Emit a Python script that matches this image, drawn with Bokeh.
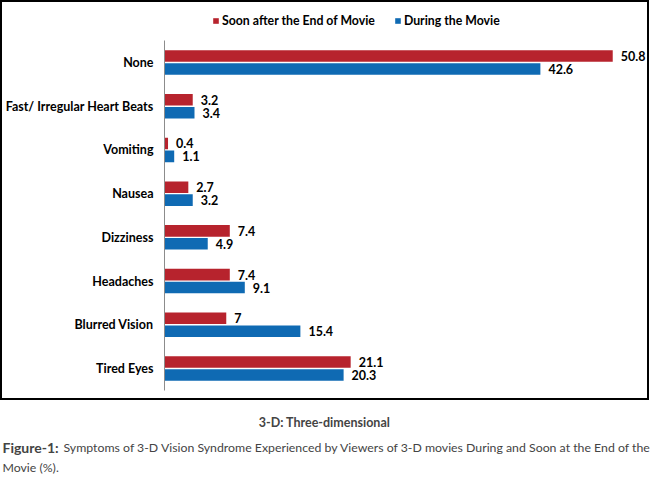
from bokeh.plotting import figure
from bokeh.models import (Range1d, Legend, LegendItem, ColumnDataSource, Label,
                          FixedTicker)
from bokeh.transform import dodge
from bokeh.layouts import column, row
from bokeh.core.properties import value
from bokeh.embed import file_html
from bokeh.resources import INLINE

# ---- data ----
categories = ["None", "Fast/ Irregular Heart Beats", "Vomiting", "Nausea",
              "Dizziness", "Headaches", "Blurred Vision", "Tired Eyes"]
after_movie = [50.8, 3.2, 0.4, 2.7, 7.4, 7.4, 7, 21.1]
during_movie = [42.6, 3.4, 1.1, 3.2, 4.9, 9.1, 15.4, 20.3]
series_names = ["Soon after the End of Movie", "During the Movie"]
note_text = "3-D: Three-dimensional"
fig_label = "Figure-1:"
fig_caption_1 = "Symptoms  of 3-D Vision Syndrome Experienced by Viewers of 3-D movies During and Soon at the End of the"
fig_caption_2 = "Movie (%)."

RED = "#B7232D"
BLUE = "#0F6AB3"
FONT = "Lato"

W = 649
H1 = 400
H2 = 79
FL = 160      # frame left (canvas px)
FR = 4

n = len(categories)
ypos = [n - 1 - i for i in range(n)]          # top category highest

src = ColumnDataSource(dict(
    y=ypos,
    after=after_movie,
    during=during_movie,
    after_lab=[f"{v:g}" for v in after_movie],
    during_lab=[f"{v:g}" for v in during_movie],
))

frame_w = W - FL - FR
px_per_cat = 43.714
y_top = (n - 1) + 60 / px_per_cat      # space above the top group
y_bot = -34 / px_per_cat               # space below the bottom group
p = figure(width=W, height=H1, output_backend="svg", toolbar_location=None,
           y_range=Range1d(y_bot, y_top),
           x_range=Range1d(0, frame_w / 8.86), x_axis_location=None,
           min_border_left=FL, min_border_right=FR, min_border_top=0,
           min_border_bottom=0)
p.styles = {"border": "2px solid black", "box-sizing": "border-box"}
p.outline_line_color = None
p.grid.visible = False

off = 0.148
bh = 0.265
r1 = p.hbar(y=dodge("y", off), right="after", left=0, height=bh,
            source=src, fill_color=RED, line_color=None)
r2 = p.hbar(y=dodge("y", -off), right="during", left=0, height=bh,
            source=src, fill_color=BLUE, line_color=None)
for col, o in (("after", off), ("during", -off)):
    p.text(x=col, y=dodge("y", o), text=col + "_lab", source=src,
           x_offset=8, text_baseline="middle", text_align="left",
           text_font=value(FONT), text_font_style="bold", text_font_size="12.5px",
           text_color="black")

ax = p.yaxis[0]
ax.ticker = FixedTicker(ticks=ypos)
ax.major_label_overrides = {yv: c for yv, c in zip(ypos, categories)}
ax.bounds = (-0.5, n - 0.5)
ax.axis_line_color = "#8C8C8C"
ax.axis_line_width = 1
ax.major_tick_line_color = None
ax.minor_tick_line_color = None
ax.major_tick_out = 0
ax.major_tick_in = 0
ax.major_label_standoff = 11
ax.major_label_text_font = FONT
ax.major_label_text_font_style = "bold"
ax.major_label_text_font_size = "12.5px"
ax.major_label_text_color = "black"

legend = Legend(items=[LegendItem(label=series_names[0], renderers=[r1]),
                       LegendItem(label=series_names[1], renderers=[r2])],
                orientation="horizontal", location=(48, H1 - 27),
                glyph_width=7, glyph_height=7, label_standoff=3, spacing=19,
                padding=0, margin=0, border_line_color=None,
                background_fill_alpha=0, label_height=18,
                label_text_font=FONT, label_text_font_style="bold",
                label_text_font_size="12.3px", label_text_color="black")
p.add_layout(legend)

c = figure(width=650, height=H2, output_backend="svg", toolbar_location=None,
           x_range=Range1d(0, 650), y_range=Range1d(H2, 0),
           x_axis_location=None, y_axis_location=None, min_border=0)
c.outline_line_color = None
c.grid.visible = False
c.add_layout(Label(x=324, y=22, text=note_text, text_align="center", text_baseline="middle",
                   text_font=FONT, text_font_style="bold", text_font_size="12.5px"))
c.add_layout(Label(x=2, y=47, text=fig_label, text_align="left", text_baseline="middle",
                   text_font=FONT, text_font_style="bold", text_font_size="14px"))
c.add_layout(Label(x=63, y=47, text=fig_caption_1, text_align="left", text_baseline="middle",
                   text_font=FONT, text_font_size="12.3px"))
c.add_layout(Label(x=2, y=67, text=fig_caption_2, text_align="left", text_baseline="middle",
                   text_font=FONT, text_font_size="12.3px"))

layout = column(p, row(c), spacing=0)
open("out.html", "w").write(file_html(layout, INLINE))
